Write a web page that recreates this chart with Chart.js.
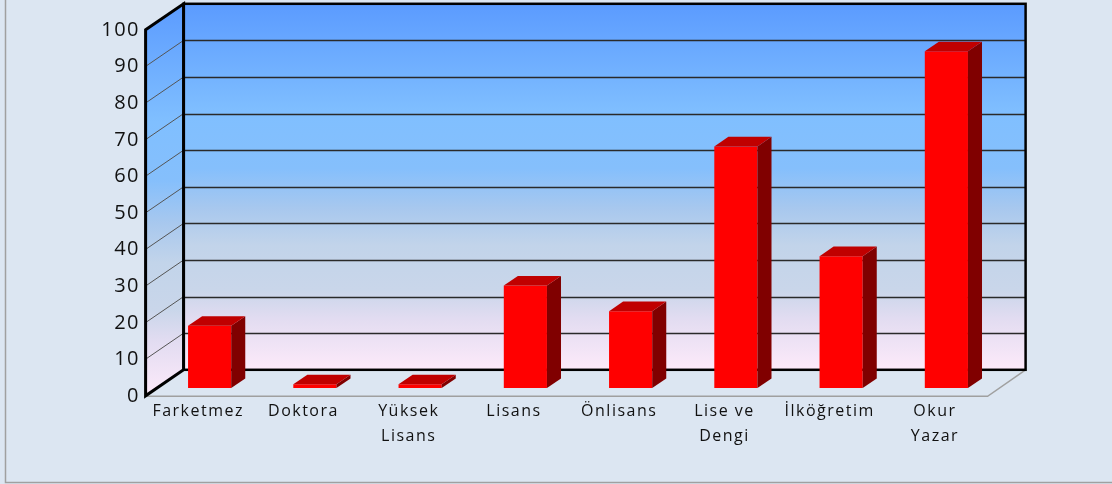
<!DOCTYPE html>
<html><head><meta charset="utf-8">
<script src="https://cdn.jsdelivr.net/npm/chart.js"></script>
<style>html,body{margin:0;padding:0;background:#dce6f2;}canvas{display:block}</style>
</head><body>
<canvas id="c" width="1112" height="484"></canvas>
<script>
const categories = [['Farketmez'], ['Doktora'], ['Yüksek', 'Lisans'], ['Lisans'], ['Önlisans'], ['Lise ve', 'Dengi'], ['İlköğretim'], ['Okur', 'Yazar']];
const values = [17, 1, 1, 28, 21, 66, 36, 92];
const yMin = 0, yMax = 100, yStep = 10;

const DEPTH = {x: 38, y: -26};   // full floor depth vector
const FRONT = 0.3;               // depth fraction of bar front faces
const BAR_D = 0.37;              // bar depth fraction
const AREA = {left: 157, top: 22, right: 999, bottom: 388};

function off(t) { return {x: (t - FRONT) * DEPTH.x, y: (t - FRONT) * DEPTH.y}; }

function poly(ctx, pts) {
  ctx.beginPath();
  ctx.moveTo(pts[0][0], pts[0][1]);
  for (let i = 1; i < pts.length; i++) ctx.lineTo(pts[i][0], pts[i][1]);
  ctx.closePath();
}

function wallGradient(ctx, y0, y1) {
  const g = ctx.createLinearGradient(0, y0, 0, y1);
  g.addColorStop(0, '#5b9bff');
  g.addColorStop(0.30, '#80bfff');
  g.addColorStop(0.45, '#85bffc');
  g.addColorStop(0.56, '#a8c8ee');
  g.addColorStop(0.66, '#c2d4ea');
  g.addColorStop(0.78, '#c9d6ea');
  g.addColorStop(0.86, '#e2dcf1');
  g.addColorStop(1, '#fdeafa');
  return g;
}

const threeD = {
  id: 'threeD',
  beforeDraw(chart) {
    const ctx = chart.ctx, a = chart.chartArea, ys = chart.scales.y;
    const o0 = off(0), o1 = off(1);
    const top = ys.getPixelForValue(yMax), bot = ys.getPixelForValue(yMin);
    ctx.save();
    ctx.fillStyle = '#dce6f2';
    ctx.fillRect(0, 0, chart.width, chart.height);
    ctx.strokeStyle = '#a0a0a0';
    ctx.lineWidth = 1.5;
    ctx.strokeRect(5.5, -5, 1200, 487.5);

    // floor
    poly(ctx, [[a.left + o0.x, bot + o0.y], [a.right + o0.x, bot + o0.y], [a.right + o1.x, bot + o1.y], [a.left + o1.x, bot + o1.y]]);
    ctx.fillStyle = '#dce6f2';
    ctx.fill();
    ctx.beginPath();
    ctx.moveTo(a.left + o0.x, bot + o0.y + 0.5);
    ctx.lineTo(a.right + o0.x, bot + o0.y + 0.5);
    ctx.lineTo(a.right + o1.x, bot + o1.y);
    ctx.strokeStyle = '#a0a0a0';
    ctx.lineWidth = 1.5;
    ctx.stroke();

    // back wall
    ctx.fillStyle = wallGradient(ctx, top + o1.y, bot + o1.y);
    ctx.fillRect(a.left + o1.x, top + o1.y, a.right - a.left, bot - top);
    // side wall
    poly(ctx, [[a.left + o0.x, top + o0.y], [a.left + o1.x, top + o1.y], [a.left + o1.x, bot + o1.y], [a.left + o0.x, bot + o0.y]]);
    ctx.fillStyle = wallGradient(ctx, top + o1.y, bot + o0.y);
    ctx.fill();

    // gridlines
    ys.ticks.forEach(t => {
      if (t.value <= yMin || t.value >= yMax) return;
      const y = ys.getPixelForValue(t.value);
      ctx.beginPath();
      ctx.moveTo(a.left + o1.x, Math.round(y + o1.y) + 0.5);
      ctx.lineTo(a.right + o1.x, Math.round(y + o1.y) + 0.5);
      ctx.strokeStyle = '#2a2a2a';
      ctx.lineWidth = 1.3;
      ctx.stroke();
      ctx.beginPath();
      ctx.moveTo(a.left + o0.x, y + o0.y);
      ctx.lineTo(a.left + o1.x, y + o1.y);
      ctx.strokeStyle = '#555';
      ctx.lineWidth = 1;
      ctx.stroke();
    });

    // outlines
    ctx.strokeStyle = '#000';
    ctx.lineJoin = 'miter';
    ctx.lineWidth = 2.5;
    ctx.strokeRect(a.left + o1.x, top + o1.y, a.right - a.left, bot - top);
    ctx.lineWidth = 3;
    poly(ctx, [[a.left + o0.x, top + o0.y], [a.left + o1.x, top + o1.y], [a.left + o1.x, bot + o1.y], [a.left + o0.x, bot + o0.y]]);
    ctx.stroke();
    ctx.restore();
    ctx.letterSpacing = '1.5px';
  },
  afterDatasetsDraw(chart) {
    const ctx = chart.ctx;
    const meta = chart.getDatasetMeta(0);
    const dx = BAR_D * DEPTH.x, dy = BAR_D * DEPTH.y;
    ctx.save();
    meta.data.forEach(b => {
      const p = b.getProps(['x', 'y', 'base', 'width'], true);
      const l = p.x - p.width / 2, r = p.x + p.width / 2;
      poly(ctx, [[r, p.y], [r + dx, p.y + dy], [r + dx, p.base + dy], [r, p.base]]);
      ctx.fillStyle = '#800000';
      ctx.fill();
      poly(ctx, [[l, p.y], [l + dx, p.y + dy], [r + dx, p.y + dy], [r, p.y]]);
      ctx.fillStyle = '#c00000';
      ctx.fill();
    });
    ctx.restore();
  },
  afterDraw(chart) { chart.ctx.letterSpacing = '0px'; }
};

const chart = new Chart(document.getElementById('c'), {
  type: 'bar',
  data: {
    labels: categories,
    datasets: [{data: values, backgroundColor: '#ff0000', borderWidth: 0, barPercentage: 0.41, categoryPercentage: 1}]
  },
  options: {
    responsive: false, animation: false, devicePixelRatio: 1,
    layout: {padding: {top: AREA.top, right: 1112 - AREA.right, left: 0, bottom: 0}},
    plugins: {legend: {display: false}, tooltip: {enabled: false}},
    scales: {
      x: {
        grid: {display: false, drawTicks: false, tickLength: 0}, border: {display: false},
        ticks: {font: {family: 'Open Sans', size: 16, lineHeight: 1.5625}, color: '#111', padding: 11, labelOffset: -11.4, maxRotation: 0, autoSkip: false},
        afterFit(s) { s.height = 484 - AREA.bottom; }
      },
      y: {
        min: yMin, max: yMax,
        grid: {display: false, drawTicks: false, tickLength: 0}, border: {display: false},
        ticks: {stepSize: yStep, font: {family: 'Open Sans', size: 20, lineHeight: 0.2}, color: '#111', padding: 17, labelOffset: 8},
        afterFit(s) { s.width = AREA.left; }
      }
    }
  },
  plugins: [threeD]
});
</script>
</body></html>
